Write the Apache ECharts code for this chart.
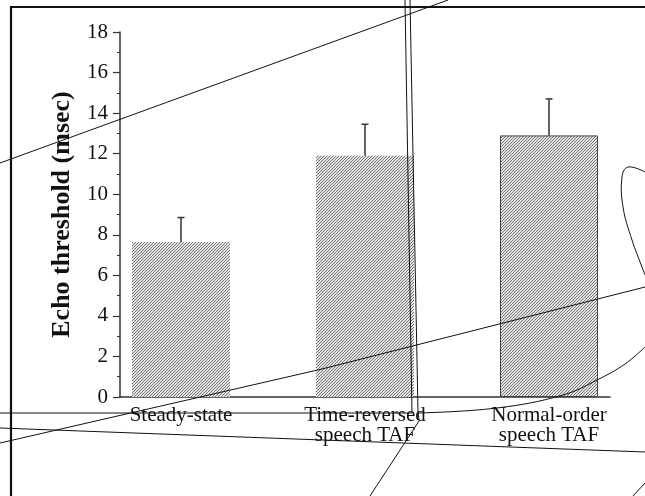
<!DOCTYPE html>
<html>
<head>
<meta charset="utf-8">
<script src="https://cdn.jsdelivr.net/npm/echarts@6/dist/echarts.min.js"></script>
<style>
html,body{margin:0;padding:0;background:#fff;}
#chart{width:645px;height:496px;}
</style>
</head>
<body>
<div id="chart"></div>
<script>
// ---- data ----
const categories = ['Steady-state', 'Time-reversed\nspeech TAF', 'Normal-order\nspeech TAF'];
const categoryPositions = [1, 2, 3];
const meanThreshold = [7.65, 11.9, 12.9];
const errorUpper = [8.85, 13.45, 14.7];
const yTickLabels = ['0', '2', '4', '6', '8', '10', '12', '14', '16', '18'];

// ---- decorative stray strokes seen on the scanned figure (not data) ----
const strayStrokes = [
  [[0, 163], [448, 0]],
  [[405, 0], [412, 413]],
  [[410, 0], [418, 412], [419, 420]],
  [[0, 413], [412, 413]],
  [[0, 443], [322, 369], [645, 287]],
  [[0, 428], [403, 443], [645, 452]],
  [[419, 421], [370, 496]],
  [[645, 483], [633, 496]]
];
const strayCurves = [
  [[418, 413], [497, 408], [563, 395], [597, 380], [625, 364], [645, 347]],
  [[645, 172], [628, 167], [622, 177], [623, 207], [632, 240], [642, 267], [645, 275]]
];

const serif = "'Liberation Serif','Times New Roman',serif";

function makeHatch() {
  const c = document.createElement('canvas');
  c.width = 3; c.height = 3;
  const g = c.getContext('2d');
  g.fillStyle = '#e2e2e2';
  g.fillRect(0, 0, 3, 3);
  g.fillStyle = '#7a7a7a';
  g.fillRect(2, 0, 1, 1);
  g.fillRect(1, 1, 1, 1);
  g.fillRect(0, 2, 1, 1);
  return c;
}
const hatch = { image: makeHatch(), repeat: 'repeat' };

const barData = categoryPositions.map((x, i) => ({
  value: [x, meanThreshold[i]],
  itemStyle: i === 2 ? { borderColor: '#444', borderWidth: 1 } : { borderWidth: 0 }
}));
const errData = categoryPositions.map((x, i) => [x, meanThreshold[i], errorUpper[i]]);

const graphics = [
  {
    type: 'rect', silent: true, z: 100,
    shape: { x: 11, y: 7, width: 700, height: 600 },
    style: { fill: 'none', stroke: '#111', lineWidth: 2.2 }
  }
];
strayStrokes.forEach(pts => graphics.push({
  type: 'polyline', silent: true, z: 101,
  shape: { points: pts },
  style: { fill: 'none', stroke: '#111', lineWidth: 1 }
}));
strayCurves.forEach(pts => graphics.push({
  type: 'polyline', silent: true, z: 101,
  shape: { points: pts, smooth: 0.4 },
  style: { fill: 'none', stroke: '#111', lineWidth: 1 }
}));

const chart = echarts.init(document.getElementById('chart'), null, { renderer: 'canvas' });
chart.setOption({
  animation: false,
  backgroundColor: '#fff',
  grid: { left: 120, right: 35, top: 32, bottom: 99 },
  xAxis: {
    type: 'value',
    min: 1 - 61 / 184,
    max: 3 + 61 / 184,
    splitLine: { show: false },
    axisTick: { show: false },
    axisLine: { show: true, lineStyle: { color: '#333', width: 1.5 } },
    axisLabel: {
      customValues: categoryPositions,
      formatter: v => categories[Math.round(v) - 1] || '',
      fontFamily: serif, fontSize: 21, lineHeight: 20, color: '#111', margin: 8
    }
  },
  yAxis: {
    type: 'value',
    min: 0, max: 18, interval: 2,
    name: 'Echo threshold (msec)',
    nameLocation: 'middle',
    nameGap: 45,
    nameTextStyle: { fontFamily: serif, fontSize: 26, fontWeight: 'bold', color: '#111' },
    splitLine: { show: false },
    axisLine: { show: true, lineStyle: { color: '#333', width: 1.5 } },
    axisTick: { show: true, length: 7, lineStyle: { color: '#333', width: 1.2 } },
    minorTick: { show: true, splitNumber: 2, length: 3, lineStyle: { color: '#333', width: 1 } },
    axisLabel: {
      formatter: v => yTickLabels[Math.round(v / 2)] ?? String(v),
      fontFamily: serif, fontSize: 21, color: '#111', margin: 12
    }
  },
  series: [
    {
      type: 'bar',
      data: barData,
      barWidth: 98,
      itemStyle: { color: hatch },
      emphasis: { disabled: true }
    },
    {
      type: 'custom',
      data: errData,
      z: 5,
      renderItem: (params, api) => {
        const x = api.value(0), lo = api.value(1), hi = api.value(2);
        const p0 = api.coord([x, lo]);
        const p1 = api.coord([x, hi]);
        return {
          type: 'group',
          children: [
            { type: 'line', shape: { x1: p0[0], y1: p0[1], x2: p1[0], y2: p1[1] }, style: { stroke: '#333', lineWidth: 1.5 } },
            { type: 'line', shape: { x1: p1[0] - 3.5, y1: p1[1], x2: p1[0] + 3.5, y2: p1[1] }, style: { stroke: '#333', lineWidth: 1.5 } }
          ]
        };
      }
    }
  ],
  graphic: graphics
});
</script>
</body>
</html>
